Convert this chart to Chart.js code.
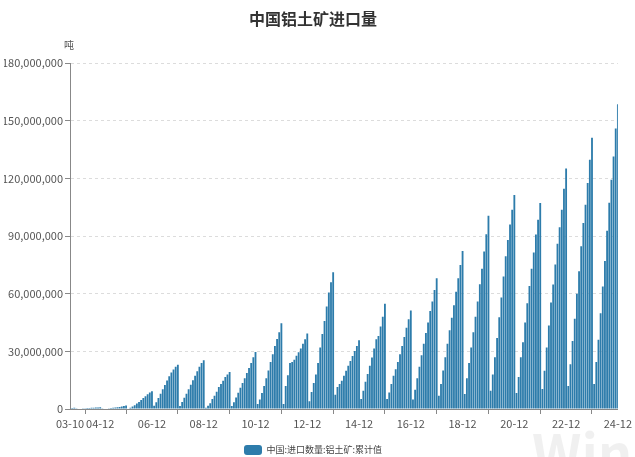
<!DOCTYPE html>
<html>
<head>
<meta charset="utf-8">
<script src="https://cdn.jsdelivr.net/npm/chart.js@4.4.1/dist/chart.umd.min.js"></script>
<style>
  html, body { margin: 0; padding: 0; background: #fff; }
  #wrap { width: 635px; height: 457px; position: relative; }
</style>
</head>
<body>
<div id="wrap"><canvas id="importChart"></canvas></div>
<script>
// China bauxite imports, cumulative value for the year, million tonnes
const TONNES_PER_UNIT = 1e6;
const startYear = 2003, startMonth = 10, endYear = 2024, endMonth = 12;

const cumImports = [
    0.3, 0.5, 0.7,                                                   // 2003 Oct-Dec
    0.1, 0.2, 0.3, 0.35, 0.4, 0.5, 0.55, 0.6, 0.7, 0.75, 0.8, 0.9,   // 2004
    0.1, 0.2, 0.3, 0.4, 0.5, 0.6, 0.75, 0.9, 1.1, 1.3, 1.5, 1.8,     // 2005
    0.3, 0.7, 1.3, 2.0, 2.8, 3.7, 4.7, 5.7, 6.7, 7.7, 8.6, 9.3,      // 2006
    1.7, 3.5, 5.7, 8.0, 10.3, 12.5, 14.8, 17.0, 19.0, 20.6, 22.0, 23.0,
    1.5, 3.6, 5.8, 8.0, 10.3, 12.6, 15.0, 17.3, 19.6, 22.0, 24.0, 25.4,
    0.6, 1.7, 3.0, 5.2, 6.9, 9.0, 11.4, 13.0, 14.7, 16.6, 18.0, 19.3,
    1.5, 3.5, 6.0, 8.5, 11.0, 13.5, 16.0, 18.7, 21.3, 24.0, 27.0, 29.7,
    2.6, 5.0, 8.3, 12.0, 16.0, 20.0, 24.5, 28.5, 32.8, 36.5, 40.0, 44.6,
    2.6, 12.0, 17.6, 24.0, 24.5, 25.6, 27.7, 29.5, 31.5, 34.0, 36.3, 39.3,
    4.0, 8.8, 13.5, 18.0, 24.0, 32.0, 39.0, 45.8, 53.4, 60.7, 66.0, 71.2,
    7.4, 11.4, 13.0, 14.7, 17.3, 19.9, 22.5, 25.0, 27.6, 30.2, 32.8, 35.8,
    5.2, 9.5, 14.2, 18.2, 22.5, 26.8, 31.5, 36.3, 38.0, 42.9, 48.0, 54.8,
    5.2, 8.6, 13.0, 17.3, 20.7, 24.5, 28.5, 32.8, 37.5, 42.3, 46.7, 51.3,
    5.0, 10.0, 16.0, 22.0, 28.0, 34.0, 39.5, 45.0, 51.0, 56.0, 62.0, 68.1,
    6.9, 13.0, 20.0, 27.0, 34.0, 41.0, 47.5, 54.0, 61.0, 68.0, 75.0, 82.3,
    7.8, 16.0, 24.0, 32.0, 40.0, 48.0, 56.0, 65.0, 73.0, 82.0, 91.0, 100.6,
    9.5, 18.0, 27.0, 37.0, 47.7, 58.0, 69.0, 79.5, 88.0, 96.0, 103.7, 111.4,
    8.3, 16.6, 27.0, 34.7, 45.0, 55.0, 64.0, 73.0, 81.4, 90.8, 98.5, 107.2,
    10.4, 19.9, 32.0, 43.4, 55.4, 64.8, 75.2, 86.0, 94.6, 103.7, 114.6, 125.2,
    12.0, 23.3, 35.4, 47.0, 60.0, 71.7, 84.7, 96.8, 106.3, 117.6, 129.7, 141.2,
    13.0, 24.4, 36.0, 49.8, 63.8, 77.0, 92.8, 107.3, 119.3, 131.4, 146.0, 158.6
];

const xTickLabels = ['03-10', '04-12', '06-12', '08-12', '10-12', '12-12',
                     '14-12', '16-12', '18-12', '20-12', '22-12', '24-12'];
const yTicks = [0, 30e6, 60e6, 90e6, 120e6, 150e6, 180e6];

const seriesName = '中国:进口数量:铝土矿:累计值';
const chartTitle = '中国铝土矿进口量';
const unitText = '吨';

// month categories, YY-MM
const months = [];
for (let y = startYear, m = startMonth; y < endYear || (y === endYear && m <= endMonth); ) {
    months.push(String(y % 100).padStart(2, '0') + '-' + String(m).padStart(2, '0'));
    m++;
    if (m > 12) { m = 1; y++; }
}
const tickIdx = xTickLabels.map(l => months.indexOf(l));

const FONT = "'Noto Sans CJK SC', 'Noto Sans', sans-serif";
const PAD_LEFT = 4;

// unit label and faint watermark
const extrasPlugin = {
    id: 'extras',
    beforeDraw(chart) {
        const ctx = chart.ctx;
        ctx.save();
        ctx.font = 'bold 54px ' + FONT;
        ctx.fillStyle = 'rgba(0,0,0,0.06)';
        ctx.textBaseline = 'alphabetic';
        ctx.fillText('Wind', 532, 474);
        ctx.restore();
    },
    afterDraw(chart) {
        const ctx = chart.ctx;
        const area = chart.chartArea;
        ctx.save();
        ctx.font = '10px ' + FONT;
        ctx.fillStyle = '#555';
        ctx.textAlign = 'center';
        ctx.textBaseline = 'middle';
        ctx.fillText(unitText, area.left - 1, area.top - 18);
        ctx.restore();
    }
};

new Chart(document.getElementById('importChart'), {
    type: 'bar',
    data: {
        labels: months,
        datasets: [{
            label: seriesName,
            data: cumImports.map(v => v * TONNES_PER_UNIT),
            backgroundColor: '#2d7cab',
            borderWidth: 0,
            barPercentage: 0.85,
            categoryPercentage: 1
        }]
    },
    options: {
        responsive: true,
        maintainAspectRatio: false,
        animation: false,
        layout: { padding: { left: PAD_LEFT, right: 13, top: 0, bottom: -8 } },
        plugins: {
            title: {
                display: true,
                text: chartTitle,
                color: '#333',
                font: { family: FONT, size: 16, weight: 'bold' },
                padding: { top: 9, bottom: 35 }
            },
            legend: {
                position: 'bottom',
                labels: {
                    boxWidth: 18,
                    boxHeight: 10,
                    useBorderRadius: true,
                    borderRadius: 3,
                    color: '#444',
                    font: { family: FONT, size: 9 },
                    padding: 5
                }
            },
            tooltip: { enabled: false }
        },
        scales: {
            x: {
                offset: false,
                grid: {
                    drawOnChartArea: false,
                    drawTicks: true,
                    tickLength: 5,
                    color: '#888'
                },
                border: { display: true, color: '#888' },
                afterBuildTicks(axis) {
                    axis.ticks = tickIdx.map(i => ({ value: i }));
                },
                afterFit(scale) {
                    scale.height = 31;
                },
                ticks: {
                    autoSkip: false,
                    maxRotation: 0,
                    color: '#555',
                    font: { family: FONT, size: 11 },
                    padding: 3,
                    callback: (v) => months[v]
                }
            },
            y: {
                min: 0,
                max: 180e6,
                afterBuildTicks(axis) {
                    axis.ticks = yTicks.map(v => ({ value: v }));
                },
                afterFit(scale) {
                    scale.width = 70 - PAD_LEFT;
                },
                grid: {
                    color: '#dcdcdc',
                    tickColor: '#888',
                    tickLength: 5
                },
                border: { display: true, color: '#888', dash: [3, 3] },
                ticks: {
                    color: '#555',
                    font: { family: FONT, size: 11 },
                    padding: 2,
                    callback: (v) => v.toLocaleString('en-US')
                }
            }
        }
    },
    plugins: [extrasPlugin]
});
</script>
</body>
</html>
